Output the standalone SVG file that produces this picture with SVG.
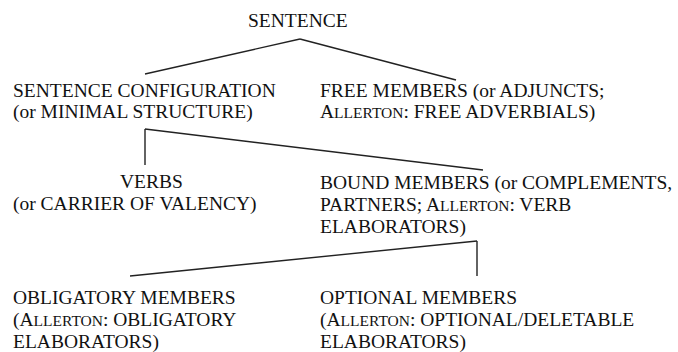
<svg xmlns="http://www.w3.org/2000/svg" width="678" height="352" viewBox="0 0 678 352">
<style>
text{font-family:"Liberation Serif","Times New Roman",serif;font-size:19.5px;fill:#111}
.sc{font-size:15.5px}
#connectors line{stroke:#222;stroke-width:1.4;fill:none}
</style>
<rect width="678" height="352" fill="#fff"/>
<g id="connectors">
<line x1="300" y1="39" x2="145" y2="74"/>
<line x1="300" y1="39" x2="456" y2="80"/>
<line x1="145" y1="129" x2="145" y2="165"/>
<line x1="145" y1="129" x2="483" y2="170"/>
<line x1="130" y1="276" x2="477" y2="241"/>
<line x1="477" y1="241" x2="477" y2="276"/>
</g>
<g id="sentence"><text x="248" y="27">SENTENCE</text></g>
<g id="config"><text x="13" y="97">SENTENCE CONFIGURATION</text><text x="13" y="118">(or MINIMAL STRUCTURE)</text></g>
<g id="free"><text x="320" y="97">FREE MEMBERS (or ADJUNCTS;</text><text x="320" y="118">A<tspan class="sc">LLERTON</tspan>: FREE ADVERBIALS)</text></g>
<g id="verbs"><text x="120" y="188">VERBS</text><text x="13" y="210">(or CARRIER OF VALENCY)</text></g>
<g id="bound"><text x="320" y="189">BOUND MEMBERS (or COMPLEMENTS,</text><text x="320" y="211">PARTNERS; A<tspan class="sc">LLERTON</tspan>: VERB</text><text x="320" y="233">ELABORATORS)</text></g>
<g id="obligatory"><text x="13" y="304">OBLIGATORY MEMBERS</text><text x="13" y="326">(A<tspan class="sc">LLERTON</tspan>: OBLIGATORY</text><text x="13" y="348">ELABORATORS)</text></g>
<g id="optional"><text x="320" y="304">OPTIONAL MEMBERS</text><text x="320" y="326">(A<tspan class="sc">LLERTON</tspan>: OPTIONAL/DELETABLE</text><text x="320" y="348">ELABORATORS)</text></g>
</svg>
